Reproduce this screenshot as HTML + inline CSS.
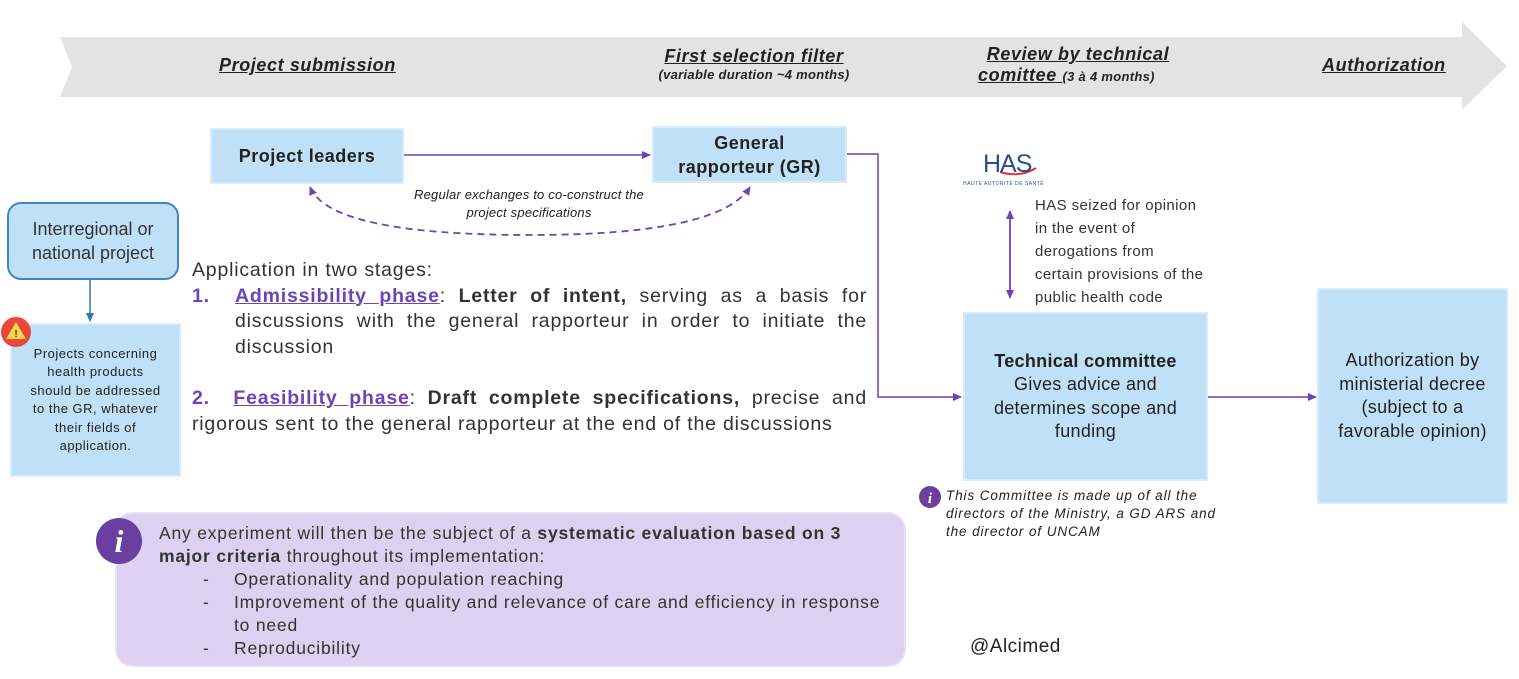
<!DOCTYPE html>
<html><head><meta charset="utf-8"><style>
body{margin:0;width:1519px;height:679px;background:#fff;position:relative;overflow:hidden;font-family:"Liberation Sans",Arial,sans-serif;color:#333}
.a{position:absolute}
.box{position:absolute;background:#bfe0f7;border:2px solid #d6ecfb;box-sizing:border-box;display:flex;align-items:center;justify-content:center;text-align:center}
.hd{font-weight:bold;font-style:italic;text-decoration:underline;font-size:18px;color:#222;letter-spacing:0.6px}
.sm{font-weight:bold;font-style:italic;font-size:13px;color:#222;letter-spacing:0.3px}
.pu{color:#6b45b5;font-weight:bold}
.j{text-align:justify;text-align-last:justify;white-space:nowrap}
</style></head><body>
<svg class="a" style="left:0;top:0" width="1519" height="679">
<defs>
<marker id="m" markerWidth="10" markerHeight="10" refX="8" refY="5" orient="auto-start-reverse" markerUnits="userSpaceOnUse"><path d="M0,1 L9,5 L0,9z" fill="#6b45b5"/></marker>
<marker id="mb" markerWidth="10" markerHeight="10" refX="8" refY="5" orient="auto" markerUnits="userSpaceOnUse"><path d="M0,1 L9,5 L0,9z" fill="#2e75b6"/></marker>
</defs>
<polygon points="60,37 1462,37 1462,22 1507,66 1462,110 1462,97 60,97 72,67" fill="#e3e3e3"/>
<line x1="404" y1="155" x2="650" y2="155" stroke="#6b45b5" stroke-width="1.5" marker-end="url(#m)"/>
<path d="M847,154 L878,154 L878,397 L961,397" fill="none" stroke="#6b45b5" stroke-width="1.5" marker-end="url(#m)"/>
<path d="M310,187 Q330,235 530,235 Q720,235 750,187" fill="none" stroke="#6b45b5" stroke-width="1.8" stroke-dasharray="7,5" marker-start="url(#m)" marker-end="url(#m)"/>
<line x1="1010" y1="211" x2="1010" y2="298" stroke="#6b45b5" stroke-width="1.8" marker-start="url(#m)" marker-end="url(#m)"/>
<line x1="1208" y1="397" x2="1316" y2="397" stroke="#6b45b5" stroke-width="1.5" marker-end="url(#m)"/>
<line x1="90" y1="280" x2="90" y2="321" stroke="#2e75b6" stroke-width="1.5" marker-end="url(#mb)"/>
<circle cx="930" cy="497" r="11" fill="#6a3fa0"/>
<text x="930" y="503" font-size="15" font-weight="bold" font-style="italic" text-anchor="middle" fill="#fff" font-family="Liberation Serif">i</text>
<path d="M1000,172 Q1020,178 1036,168" stroke="#d33" stroke-width="2" fill="none"/>
</svg>
<div class="a hd" style="left:219px;top:55px">Project submission</div>
<div class="a" style="left:636px;top:46px;text-align:center;width:236px"><div class="hd">First selection filter</div><div class="sm">(variable duration ~4 months)</div></div>
<div class="a" style="left:978px;top:44px;width:200px"><div class="hd" style="text-align:center">Review by technical</div><div><span class="hd">comittee </span><span class="sm"> (3 à 4 months)</span></div></div>
<div class="a hd" style="left:1322px;top:55px">Authorization</div>

<div class="box" style="left:210px;top:128px;width:194px;height:56px;font-weight:bold;font-size:18px;color:#222;letter-spacing:0.5px">Project leaders</div>
<div class="box" style="left:652px;top:126px;width:195px;height:57px;font-weight:bold;font-size:18px;color:#222;line-height:24px;letter-spacing:0.5px">General<br>rapporteur (GR)</div>
<div class="a" style="left:395px;top:186px;width:268px;text-align:center;font-style:italic;font-size:13px;line-height:18px;color:#222;letter-spacing:0.2px">Regular exchanges to co-construct the project specifications</div>

<div class="box" style="left:7px;top:202px;width:172px;height:78px;border:2px solid #3f84c4;border-radius:14px;font-size:18px;line-height:24px;padding:0 8px">Interregional or national project</div>
<div class="box" style="left:10px;top:323px;width:171px;height:154px;font-size:13px;line-height:18.5px;color:#222;letter-spacing:0.5px">Projects concerning<br>health products<br>should be addressed<br>to the GR, whatever<br>their fields of<br>application.</div>
<svg class="a" style="left:0;top:316px" width="34" height="34"><circle cx="16" cy="16" r="15" fill="#e8463a"/><polygon points="16,6 26,23 6,23" fill="#f7d548"/><text x="16" y="21" font-size="10" font-weight="bold" text-anchor="middle" fill="#333" font-family="Liberation Sans">!</text></svg>

<div class="a" style="left:192px;top:258px;width:675px;font-size:19.5px;line-height:25.5px;letter-spacing:0.8px">
<div>Application in two stages:</div>
<div class="j"><span class="pu" style="display:inline-block;width:43px;text-align:left">1.</span><span class="pu" style="text-decoration:underline">Admissibility phase</span>: <b>Letter of intent,</b> serving as a basis for</div>
<div class="j" style="margin-left:43px">discussions with the general rapporteur in order to initiate the</div>
<div style="margin-left:43px">discussion</div>
<div class="j" style="margin-top:26px"><span class="pu">2.&nbsp; <u>Feasibility phase</u></span>: <b>Draft complete specifications,</b> precise and</div>
<div>rigorous sent to the general rapporteur at the end of the discussions</div>
</div>

<div class="a" style="left:983px;top:150px;font-size:25px;color:#2b4a8f;letter-spacing:-1px">HAS</div>
<div class="a" style="left:963px;top:181px;font-size:5px;color:#2b4a8f;letter-spacing:0.5px">HAUTE AUTORITÉ DE SANTÉ</div>
<div class="a" style="left:1035px;top:194px;font-size:15px;line-height:23px;color:#333;letter-spacing:0.4px">HAS seized for opinion<br>in the event of<br>derogations from<br>certain provisions of the<br>public health code</div>

<div class="box" style="left:963px;top:312px;width:245px;height:169px;font-size:18px;line-height:23.5px;color:#222;padding:0 20px;letter-spacing:0.3px"><div><b>Technical committee</b><br>Gives advice and determines scope and funding</div></div>
<div class="box" style="left:1317px;top:288px;width:191px;height:216px;font-size:18px;line-height:23.5px;color:#222;padding:0 16px;letter-spacing:0.3px">Authorization by ministerial decree (subject to a favorable opinion)</div>
<div class="a" style="left:946px;top:487px;width:275px;font-style:italic;font-size:13.5px;line-height:18px;color:#222;letter-spacing:0.9px">This Committee is made up of all the directors of the Ministry, a GD ARS and the director of UNCAM</div>

<div class="a" style="left:115px;top:512px;width:791px;height:155px;background:#ddd0f0;border:2px solid #e8e0f5;border-radius:18px;box-sizing:border-box"></div>
<div class="a" style="left:96px;top:518px;width:46px;height:46px;border-radius:50%;background:#6a3fa0;color:#fff;font:italic bold 32px 'Liberation Serif';text-align:center;line-height:46px">i</div>
<div class="a" style="left:159px;top:522px;width:740px;font-size:17.5px;line-height:23px;color:#333;letter-spacing:0.8px;white-space:nowrap">Any experiment will then be the subject of a <b>systematic evaluation based on 3<br>major criteria</b> throughout its implementation:
<div style="display:flex;margin-left:44px"><span style="width:31px">-</span><span>Operationality and population reaching</span></div>
<div style="display:flex;margin-left:44px"><span style="width:31px;flex:none">-</span><span>Improvement of the quality and relevance of care and efficiency in response<br>to need</span></div>
<div style="display:flex;margin-left:44px"><span style="width:31px">-</span><span>Reproducibility</span></div>
</div>
<div class="a" style="left:970px;top:636px;font-size:19px;color:#222;letter-spacing:0.5px">@Alcimed</div>
</body></html>
